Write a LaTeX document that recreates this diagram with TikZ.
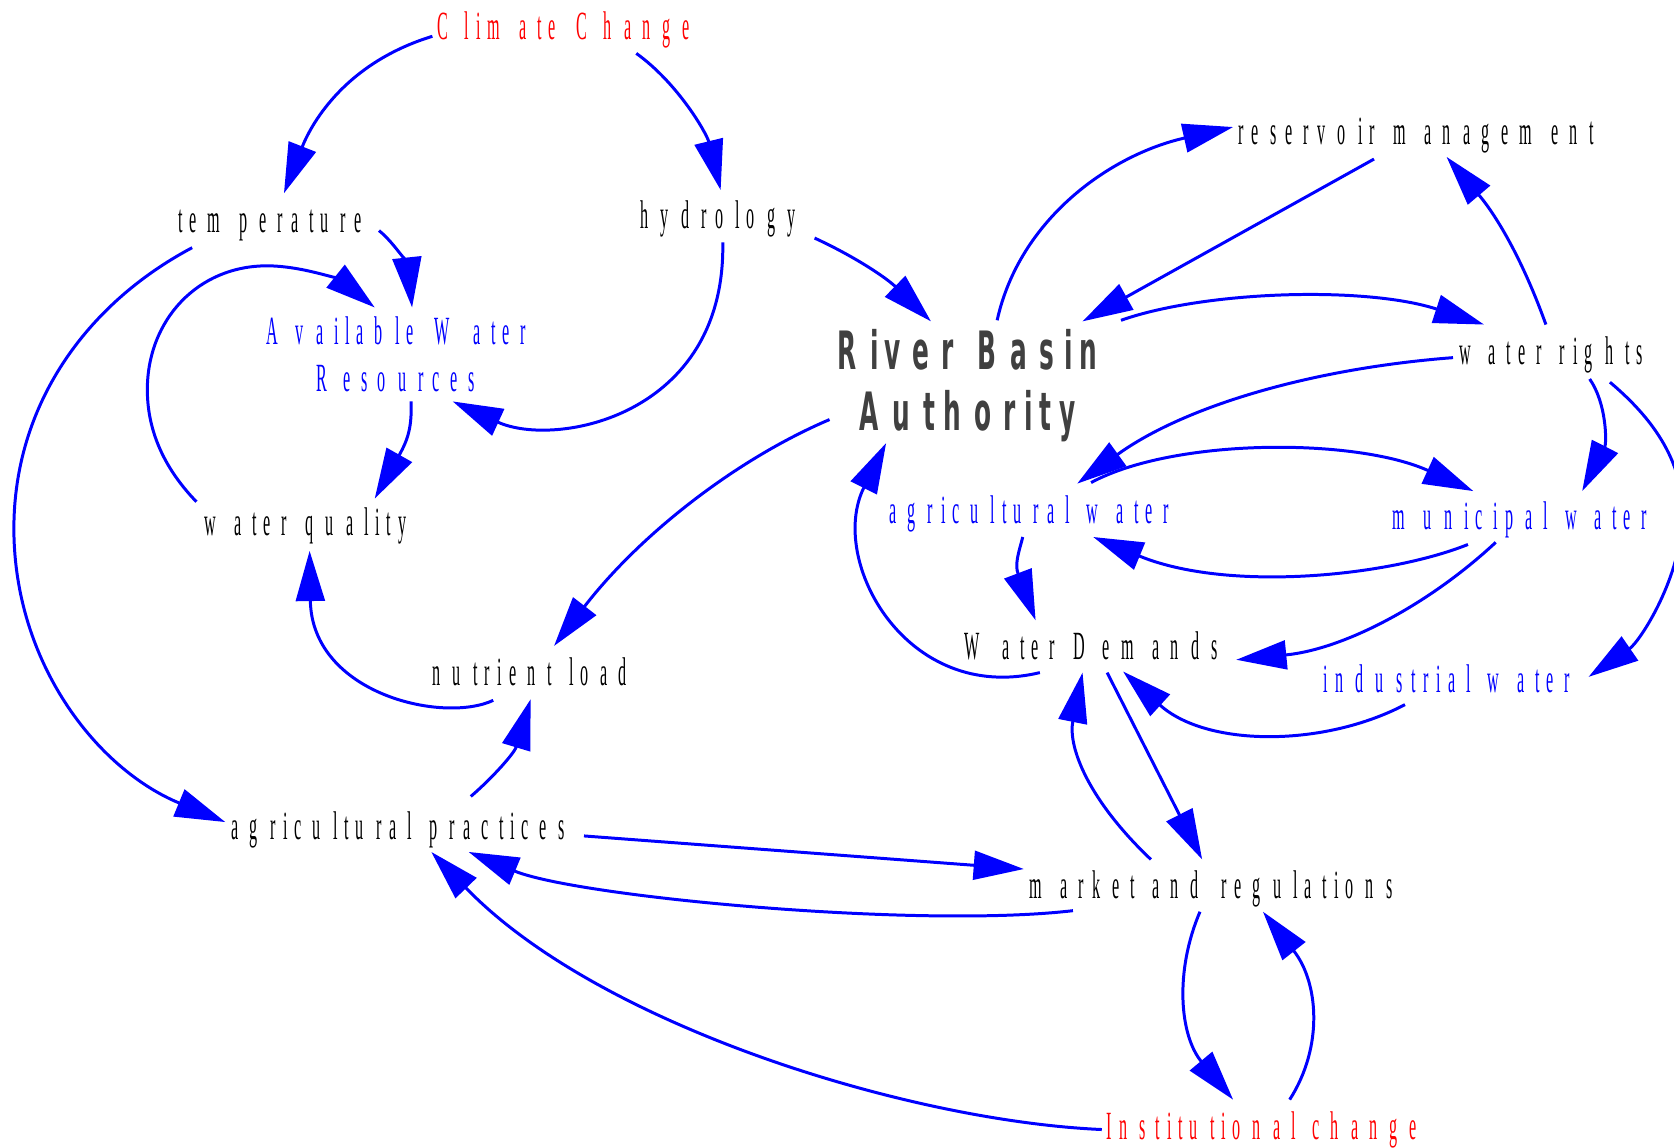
\documentclass[tikz,border=0pt]{standalone}
\usepackage{fontspec}
\usepackage{graphicx}
\usetikzlibrary{arrows.meta}

\newfontfamily\lblfont{Liberation Serif}
\newfontfamily\hubfont{DejaVu Sans}

\definecolor{linkblue}{RGB}{0,0,255}
\definecolor{driverred}{RGB}{255,0,0}
\definecolor{hubgray}{RGB}{64,64,64}

% narrow glyphs set on a wider advance, one character at a time
\newsavebox\chbox
\newcommand\advratio{1.016}
\newcommand\glyphratio{0.4035}
\newcommand\spreadchar[1]{\sbox\chbox{#1}\makebox[\advratio\wd\chbox][l]{\scalebox{\glyphratio}[1]{#1}}}
\ExplSyntaxOn
\NewDocumentCommand \spreadtext { m } { \str_map_inline:nn {#1} { \spreadchar {##1} } }
\ExplSyntaxOff

\begin{document}
\begin{tikzpicture}[x=1pt,y=-1pt,
  link/.style={draw=linkblue, line width=2.8pt, -{Triangle[length=47pt,width=27pt]}},
  lbl/.style={inner sep=0pt, outer sep=0pt, anchor=base west,
    font=\lblfont\fontsize{37.5}{43.4}\selectfont},
  hub/.style={inner sep=0pt, outer sep=0pt, anchor=base, text=hubgray,
    font=\hubfont\bfseries\fontsize{49.5}{56.8}\selectfont\renewcommand\advratio{0.81}\renewcommand\glyphratio{0.47}},
]
\fill[white] (0,0) rectangle (1568,1075);
\useasboundingbox (0,0) rectangle (1568,1075);

% ---- variables ----
\node[lbl, text=driverred] (cc)   at (410,37)      {\spreadtext{Climate Change}};
\node[lbl]                 (temp) at (167,217.5)   {\spreadtext{temperature}};
\node[lbl]                 (hyd)  at (600,214)     {\spreadtext{hydrology}};
\node[lbl, anchor=base, text=linkblue] (awr) at (375,323)
  {\begin{tabular}[t]{@{}c@{}}\spreadtext{Available Water}\\\spreadtext{Resources}\end{tabular}};
\node[lbl]                 (wq)   at (192,502)     {\spreadtext{water quality}};
\node[lbl]                 (nl)   at (405,642)     {\spreadtext{nutrient load}};
\node[lbl]                 (ap)   at (217,786)     {\spreadtext{agricultural practices}};
\node[lbl]                 (mr)   at (964,842)     {\spreadtext{market and regulations}};
\node[lbl, text=driverred] (ic)   at (1036,1067)   {\spreadtext{Institutional change}};
\node[hub]                 (rba)  at (912,346)
  {\begin{tabular}[t]{@{}c@{}}\spreadtext{River Basin}\\\spreadtext{Authority}\end{tabular}};
\node[lbl]                 (rm)   at (1160,135.5)  {\spreadtext{reservoir management}};
\node[lbl]                 (wr)   at (1367,341)    {\spreadtext{water rights}};
\node[lbl, text=linkblue]  (aw)   at (833,490)     {\spreadtext{agricultural water}};
\node[lbl, text=linkblue]  (mw)   at (1304,496)    {\spreadtext{municipal water}};
\node[lbl]                 (wd)   at (903,617.5)   {\spreadtext{Water Demands}};
\node[lbl, text=linkblue]  (iw)   at (1240,649)    {\spreadtext{industrial water}};

% bend points of the long loops
\coordinate (loopA) at (138,365);
\coordinate (loopTop) at (250,249);
\coordinate (bendT) at (13,495);
\coordinate (bendI) at (1576,480);

% ---- links ----
\draw[link] ([shift={(-5,-3)}]cc.base west) .. controls +(-85,26) and +(24,-61) .. ([shift={(99,-36.5)}]temp.base west);
\draw[link] ([shift={(186,13)}]cc.base west) .. controls +(39,28) and +(-13,-53) .. ([shift={(75,-36)}]hyd.base west);
\draw[link] ([shift={(188,-1.5)}]temp.base west) .. controls +(15,12) and +(-4,-38) .. ([shift={(11,-35)}]awr.base);
\draw[link] ([shift={(-8,-32)}]wq.base west) .. controls +(-29,-30) and +(0,40) .. (loopA)
            .. controls +(0,-65) and +(-65,0) .. (loopTop)
            .. controls +(35,0) and +(-30,-24) .. ([shift={(-24,-35)}]awr.base);
\draw[link] ([shift={(77,13)}]hyd.base west) .. controls +(3,163) and +(96,44) .. ([shift={(49,53)}]awr.base);
\draw[link] ([shift={(10,53)}]awr.base) .. controls +(1,24) and +(31,-55) .. ([shift={(159,-35)}]wq.base west);
\draw[link] ([shift={(13,14.5)}]temp.base west) .. controls +(-100,53) and +(0,-115) .. (bendT)
            .. controls +(0,125) and +(-121,-50) .. ([shift={(-6,-16)}]ap.base west);
\draw[link] ([shift={(57,14)}]nl.base west) .. controls +(-47,22) and +(2,134) .. ([shift={(98,14)}]wq.base west);
\draw[link] ([shift={(224,-40)}]ap.base west) .. controls +(21,-18) and +(-15,50) .. ([shift={(92,13)}]nl.base west);
\draw[link] ([shift={(-135,47)}]rba.base) .. controls +(-87,37) and +(81,-105) .. ([shift={(114,-37)}]nl.base west);
\draw[link] ([shift={(163,9)}]hyd.base west) .. controls +(37,17) and +(-42,-41) .. ([shift={(-40,-45)}]rba.base);
\draw[link] ([shift={(22,-46)}]rba.base) .. controls +(21,-95) and +(-115,26) .. ([shift={(-5,-16.5)}]rm.base west);
\draw[link] ([shift={(127,13.5)}]rm.base west) -- ([shift={(102,-45)}]rba.base);
\draw[link] ([shift={(138,-46)}]rba.base) .. controls +(80,-28) and +(-110,-36) .. ([shift={(23,-37)}]wr.base west);
\draw[link] ([shift={(81,-37)}]wr.base west) .. controls +(-23,-64) and +(45,53) .. ([shift={(195,11.5)}]rm.base west);
\draw[link] ([shift={(-6,-6)}]wr.base west) .. controls +(-131,10) and +(101,-73) .. ([shift={(176,-37)}]aw.base west);
\draw[link] ([shift={(122,14)}]wr.base west) .. controls +(16,23) and +(23,-45) .. ([shift={(178,-36)}]mw.base west);
\draw[link] ([shift={(141,17)}]wr.base west) .. controls +(32,27) and +(0,-55) .. (bendI)
            .. controls +(0,60) and +(48,-33) .. ([shift={(248,-15)}]iw.base west);
\draw[link] ([shift={(189,-38)}]aw.base west) .. controls +(78,-42) and +(-110,-50) .. ([shift={(76,-36)}]mw.base west);
\draw[link] ([shift={(71,14)}]mw.base west) .. controls +(-75,30) and +(126,52) .. ([shift={(191,13)}]aw.base west);
\draw[link] ([shift={(125,13)}]aw.base west) .. controls +(-3,12) and +(-20,-53) .. ([shift={(67,-36.5)}]wd.base west);
\draw[link] ([shift={(97,12)}]mw.base west) .. controls +(-61,57) and +(102,-10) .. ([shift={(255,0.5)}]wd.base west);
\draw[link] ([shift={(76,11)}]iw.base west) .. controls +(-76,40) and +(78,71) .. ([shift={(149,11.5)}]wd.base west);
\draw[link] ([shift={(71,12.5)}]wd.base west) .. controls +(-125,30) and +(-55,110) .. ([shift={(-82,69)}]rba.base);
\draw[link] ([shift={(134,12.5)}]wd.base west) -- ([shift={(162,-37)}]mr.base west);
\draw[link] ([shift={(114,-37)}]mr.base west) .. controls +(-58,-55) and +(-14,70) .. ([shift={(111,12.5)}]wd.base west);
\draw[link] ([shift={(330,-3)}]ap.base west) -- ([shift={(-5,-28)}]mr.base west);
\draw[link] ([shift={(41,11)}]mr.base west) .. controls +(-145,17) and +(101,42) .. ([shift={(222,12)}]ap.base west);
\draw[link] ([shift={(160,12)}]mr.base west) .. controls +(-24,56) and +(-50,-60) .. ([shift={(119,-37)}]ic.base west);
\draw[link] ([shift={(172,-37)}]ic.base west) .. controls +(32,-50) and +(52,66) .. ([shift={(219,12)}]mr.base west);
\draw[link] ([shift={(-4,-9)}]ic.base west) .. controls +(-182,-8) and +(156,162) .. ([shift={(187,12)}]ap.base west);
\end{tikzpicture}
\end{document}
